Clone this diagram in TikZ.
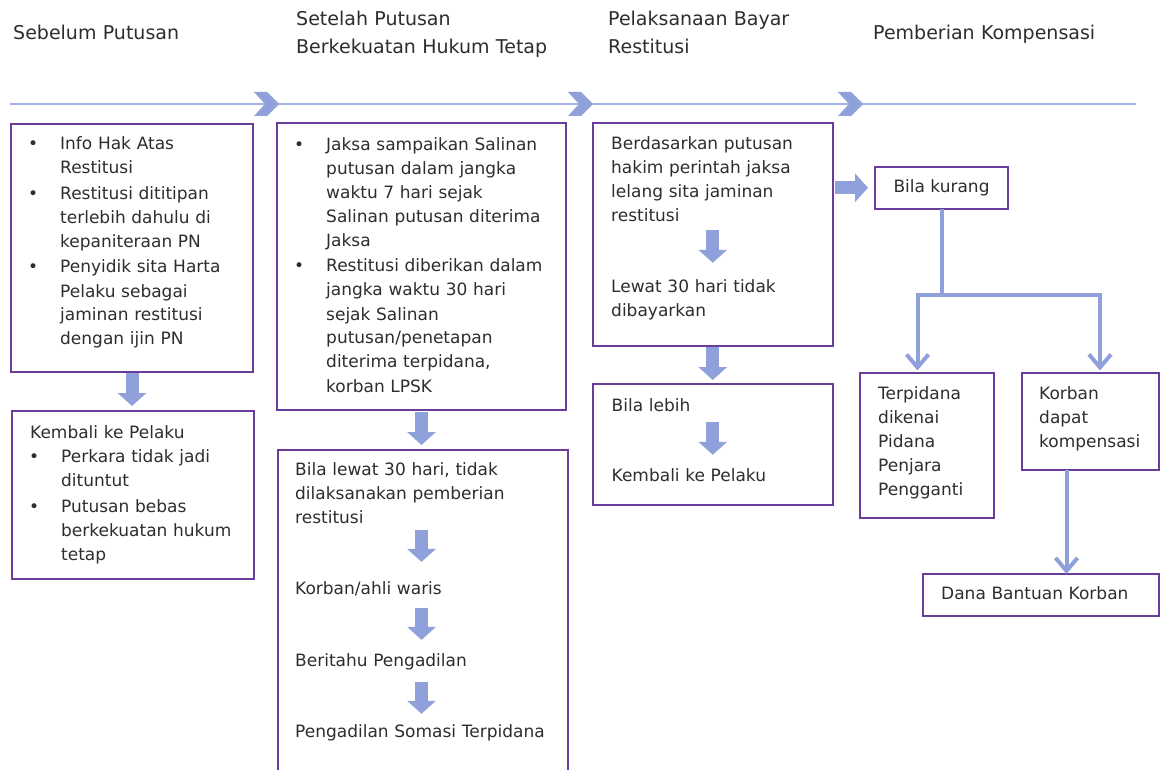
\documentclass[tikz,border=0pt]{standalone}
\usepackage{fontspec}
\setmainfont{DejaVu Sans}
\usetikzlibrary{arrows.meta}
\definecolor{boxpurple}{RGB}{106,61,154}
\definecolor{arrowblue}{RGB}{143,160,219}
\definecolor{lineblue}{RGB}{163,177,229}
\definecolor{textgray}{RGB}{45,45,45}
\newcommand{\itembullet}{\leavevmode\llap{\textbullet\hspace{22pt}}}
\tikzstyle{flow box}=[rectangle, draw=boxpurple, line width=2pt, inner sep=0pt,
outer sep=0pt, anchor=north west, text=textgray, font=\fontsize{17}{24}\selectfont]
\tikzstyle{flow text}=[anchor=base west, inner sep=0pt, align=left,
text=textgray, font=\fontsize{17}{24}\selectfont]
\tikzstyle{phase text}=[anchor=base west, inner sep=0pt, align=left,
text=textgray, text width=270pt, font=\fontsize{19}{28}\selectfont]
\tikzstyle{block arrow}=[draw=arrowblue, line width=13pt, -{Triangle[width=28pt,length=13pt]}]
\tikzstyle{link line}=[draw=arrowblue, line width=4pt]
\tikzstyle{link arrow}=[link line, -{Straight Barb[width=22pt,length=13pt]}]

\begin{document}
\begin{tikzpicture}[x=1pt,y=-1pt]
\useasboundingbox (0,0) rectangle (1161,770);

% phases on the time line
\node[phase text] (phase1) at (13,40) {Sebelum Putusan};
\node[phase text] (phase2) at (296,26) {Setelah Putusan\\ Berkekuatan Hukum Tetap};
\node[phase text] (phase3) at (608,26) {Pelaksanaan Bayar\\ Restitusi};
\node[phase text] (phase4) at (873,40) {Pemberian Kompensasi};
\draw[lineblue, line width=1.5pt] (10,104) -- (1136,104);
\fill[arrowblue] (254,92) -- ++(13,0) -- ++(12,12) -- ++(-12,12) -- ++(-13,0) -- ++(11,-12) -- cycle;
\fill[arrowblue] (568,92) -- ++(13,0) -- ++(12,12) -- ++(-12,12) -- ++(-13,0) -- ++(11,-12) -- cycle;
\fill[arrowblue] (838,92) -- ++(13,0) -- ++(12,12) -- ++(-12,12) -- ++(-13,0) -- ++(11,-12) -- cycle;

% sebelum putusan
\node[flow box, minimum width=242pt, minimum height=248pt] (a1) at (11,124) {};
\node[flow text, text width=190pt] (a1text) at (60,150) {\itembullet Info Hak Atas\\ Restitusi\\[1.5pt]
\itembullet Restitusi dititipan\\ terlebih dahulu di\\ kepaniteraan PN\\[1.5pt]
\itembullet Penyidik sita Harta\\ Pelaku sebagai\\ jaminan restitusi\\ dengan ijin PN};
\node[flow box, minimum width=242pt, minimum height=168pt] (a2) at (12,411) {};
\node[flow text, text width=215pt] (a2head) at (30,438) {Kembali ke Pelaku};
\node[flow text, text width=190pt] (a2list) at (61,462.5) {\itembullet Perkara tidak jadi\\ dituntut\\[1.5pt]
\itembullet Putusan bebas\\ berkekuatan hukum\\ tetap};
\draw[block arrow, shorten <=1pt, shorten >=5pt] (a1.south) -- (a1.south |- a2.north);

% setelah putusan berkekuatan hukum tetap
\node[flow box, minimum width=289pt, minimum height=286.5pt] (b1) at (277,123.5) {};
\node[flow text, text width=235pt] (b1text) at (326,151) {\itembullet Jaksa sampaikan Salinan\\ putusan dalam jangka\\ waktu 7 hari sejak\\ Salinan putusan diterima\\ Jaksa\\[1pt]
\itembullet Restitusi diberikan dalam\\ jangka waktu 30 hari\\ sejak Salinan\\ putusan/penetapan\\ diterima terpidana,\\ korban LPSK};
\node[flow box, minimum width=290pt, minimum height=324pt] (b2) at (277.5,450) {};
\node[flow text, text width=265pt] (b2a) at (295,475) {Bila lewat 30 hari, tidak\\ dilaksanakan pemberian\\ restitusi};
\node[flow text, text width=265pt] (b2b) at (295,594) {Korban/ahli waris};
\node[flow text, text width=265pt] (b2c) at (295,666) {Beritahu Pengadilan};
\node[flow text, text width=265pt] (b2d) at (295,737.5) {Pengadilan Somasi Terpidana};
\draw[block arrow, shorten <=2pt, shorten >=5pt] (b1.south) -- (b1.south |- b2.north);
\draw[block arrow, shorten <=7pt, shorten >=19pt] (b1.south |- b2a.south) -- (b1.south |- b2b.north);
\draw[block arrow, shorten <=11.8pt, shorten >=13pt] (b1.south |- b2b.south) -- (b1.south |- b2c.north);
\draw[block arrow, shorten <=12.5pt, shorten >=10.6pt] (b1.south |- b2c.south) -- (b1.south |- b2d.north);

% pelaksanaan bayar restitusi
\node[flow box, minimum width=239.5pt, minimum height=222pt] (c1) at (593,123.5) {};
\node[flow text, text width=215pt] (c1a) at (611,149.5) {Berdasarkan putusan\\ hakim perintah jaksa\\ lelang sita jaminan\\ restitusi};
\node[flow text, text width=215pt] (c1b) at (611,292.5) {Lewat 30 hari tidak\\ dibayarkan};
\node[flow box, minimum width=240pt, minimum height=121pt] (c2) at (593,384) {};
\node[flow text, text width=215pt] (c2a) at (611.5,411) {Bila lebih};
\node[flow text, text width=215pt] (c2b) at (611.5,481.5) {Kembali ke Pelaku};
\draw[block arrow, shorten <=8pt, shorten >=16.6pt] (c1.center |- c1a.south) -- (c1.center |- c1b.north);
\draw[block arrow, shorten <=1.5pt, shorten >=4pt] (c1.south) -- (c1.south |- c2.north);
\draw[block arrow, shorten <=11pt, shorten >=13.6pt] (c1.center |- c2a.south) -- (c1.center |- c2b.north);

% pemberian kompensasi
\node[flow box, minimum width=133pt, minimum height=41.5pt] (d1) at (875,167) {Bila kurang};
\draw[block arrow, shorten <=2.5pt, shorten >=7pt] (c1.east |- d1.west) -- (d1.west);
\node[flow box, minimum width=134pt, minimum height=145pt] (d2) at (859.5,372.5) {};
\node[flow text, text width=110pt] (d2text) at (878,399.5) {Terpidana\\ dikenai\\ Pidana\\ Penjara\\ Pengganti};
\node[flow box, minimum width=137.5pt, minimum height=97pt] (d3) at (1021.5,372.5) {};
\node[flow text, text width=115pt] (d3text) at (1039,399.5) {Korban\\ dapat\\ kompensasi};
\node[flow box, minimum width=236pt, minimum height=42pt] (d4) at (923,574) {};
\node[flow text, text width=210pt] (d4text) at (941,599) {Dana Bantuan Korban};
\coordinate (split) at (941.5,295);
\draw[link line] (d1.south) -- (split);
\draw[link arrow, shorten >=2pt] (split) -| ([xshift=58pt]d2.north west);
\draw[link arrow, shorten >=2pt] (split) -| ([xshift=78.5pt]d3.north west);
\coordinate (d3out) at ([xshift=45pt]d3.south west);
\draw[link arrow] (d3out) -- (d3out |- d4.north);
\end{tikzpicture}
\end{document}
